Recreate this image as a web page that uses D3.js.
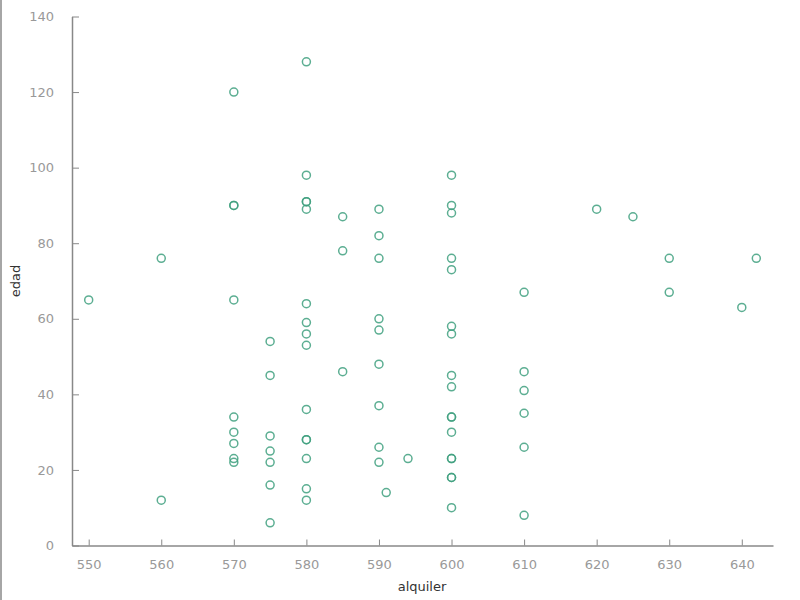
<!DOCTYPE html>
<html><head><meta charset="utf-8">
<script src="https://cdn.jsdelivr.net/npm/d3@7"></script>
<style>body{margin:0;background:#fff}svg{display:block}</style>
</head><body>
<svg id="c" width="800" height="600"></svg>
<script>
const alquiler = [550,560,560,
 570,570,570,570,570,570,570,570,570,
 575,575,575,575,575,575,575,
 580,580,580,580,580,580,580,580,580,580,580,580,580,580,580,
 585,585,585,
 590,590,590,590,590,590,590,590,590,
 591,594,
 600,600,600,600,600,600,600,600,600,600,600,600,600,600,600,600,600,
 610,610,610,610,610,610,
 620,625,630,630,640,642];
const edad = [65,76,12,
 120,90,90,65,34,30,27,23,22,
 54,45,29,25,22,16,6,
 128,98,91,91,89,64,59,56,53,36,28,28,23,15,12,
 87,78,46,
 89,82,76,60,57,48,37,26,22,
 14,23,
 98,90,88,76,73,58,56,45,42,34,34,30,23,23,18,18,10,
 67,46,41,35,26,8,
 89,87,76,67,63,76];
const xTicks = [550,560,570,580,590,600,610,620,630,640];
const yTicks = [0,20,40,60,80,100,120,140];
const xLabel = "alquiler", yLabel = "edad";

const svg = d3.select("#c");
svg.append("line").attr("x1",1).attr("x2",1).attr("y1",0).attr("y2",600).attr("stroke","#888").attr("stroke-width",1.5);
const x = d3.scaleLinear().domain([547.7,644.3]).range([72,773]);
const y = d3.scaleLinear().domain([0,140]).range([545.5,16.5]);
const font = "Tahoma, 'DejaVu Sans', sans-serif";

const gx = svg.append("g").attr("transform","translate(0,545.5)")
  .call(d3.axisBottom(x).tickValues(xTicks).tickSize(-6).tickPadding(14).tickSizeOuter(0));
const gy = svg.append("g").attr("transform","translate(72,0)")
  .call(d3.axisLeft(y).tickValues(yTicks).tickSize(-7).tickPadding(18).tickSizeOuter(0));
[gx,gy].forEach(g=>{
  g.select(".domain").attr("stroke","#888").attr("stroke-width",1.5);
  g.selectAll(".tick line").attr("stroke","#888");
  g.selectAll(".tick text").attr("fill","#999").attr("font-size",13).attr("font-family",font);
});

svg.append("text").attr("x",422).attr("y",591).attr("text-anchor","middle")
  .attr("font-family",font).attr("font-size",13).attr("fill","#333").text(xLabel);
svg.append("text").attr("transform","translate(20,281) rotate(-90)").attr("text-anchor","middle")
  .attr("font-family",font).attr("font-size",13).attr("fill","#333").text(yLabel);

svg.append("g").selectAll("circle").data(alquiler).join("circle")
  .attr("cx",d=>x(d)).attr("cy",(d,i)=>y(edad[i])).attr("r",4)
  .attr("fill","none").attr("stroke","#3fa07f").attr("stroke-width",1.5).attr("stroke-opacity",0.85);
</script>
</body></html>
